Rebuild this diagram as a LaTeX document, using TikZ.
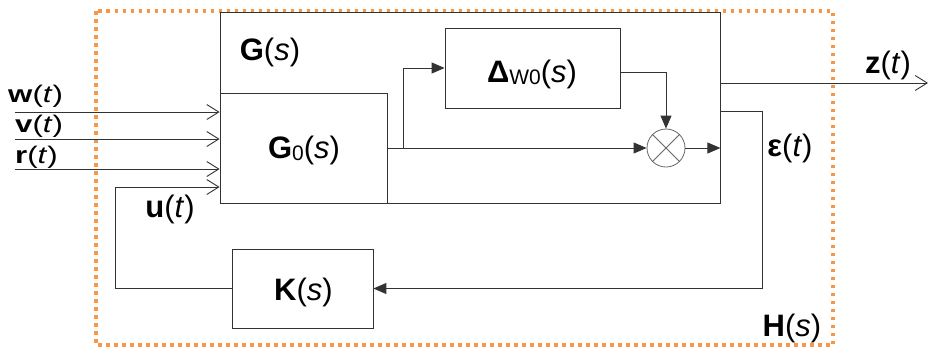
\documentclass[tikz,border=0pt]{standalone}
\usepackage{fontspec}
\setmainfont{Liberation Sans}
\usetikzlibrary{arrows.meta}
\definecolor{hdots}{HTML}{F79646}
\definecolor{wire}{HTML}{333333}
\newcommand{\sigt}[1]{\textbf{#1}(\textit{t})}
\newcommand{\tfs}[1]{\textbf{#1}(\textit{s})}
\newcommand{\subsc}[1]{\raisebox{-2pt}{\fontsize{21}{21}\selectfont #1}}

\begin{document}
\begin{tikzpicture}[x=1pt,y=-1pt,
  blk/.style={draw=wire,line width=0.8pt,inner sep=0pt},
  lbl/.style={font=\fontsize{31}{33}\selectfont,inner sep=0pt},
  sml/.style={font=\fontsize{24}{26}\selectfont,inner sep=0pt},
  oarr/.style={-{Straight Barb[length=12pt,width=15pt]},draw=wire,line width=0.9pt},
  farr/.style={-{Triangle[length=13pt,width=11pt]},draw=wire,line width=0.9pt}]
\useasboundingbox (0,0) rectangle (929,349);
\draw[hdots,line width=3.5pt,dash pattern=on 3.5pt off 4.5pt] (96,11) rectangle (833,345);
% blocks
\node[blk,minimum width=500,minimum height=191] (G) at (470,107.5) {};
\node[blk,minimum width=167,minimum height=110] (G0) at (303.5,148) {};
\node[blk,minimum width=175,minimum height=80] (D) at (532.5,68) {};
\node[blk,minimum width=141,minimum height=79] (K) at (302.5,288.5) {};
\node[draw=black!60,line width=0.8pt,circle,minimum size=38,inner sep=0pt] (m) at (666,148) {};
\draw[black!60,line width=0.8pt] (m.north east)--(m.south west) (m.north west)--(m.south east);
% texts
\node[lbl] (Gt) at (270,52) {\tfs{G}};
\node[lbl] (G0t) at (304,150) {\textbf{G}\subsc{0}(\textit{s})};
\node[lbl] (Dt) at (532,74) {\textbf{Δ}\subsc{W0}(\textit{s})};
\node[lbl] (Kt) at (303.5,292) {\tfs{K}};
\node[lbl] (Ht) at (792,328) {\tfs{H}};
\node[lbl] (zt) at (888,65) {\sigt{z}};
\node[lbl] (et) at (790,148) {\sigt{ε}};
\node[lbl] (ut) at (170,209) {\sigt{u}};
\node[sml,anchor=west] (wt) at (8,96) {\scalebox{1.3}[1]{\sigt{w}}};
\node[sml,anchor=west] (vt) at (15,126) {\scalebox{1.3}[1]{\sigt{v}}};
\node[sml,anchor=west] (rt) at (15,157) {\scalebox{1.3}[1]{\sigt{r}}};
% inputs
\coordinate (win) at (15,112);
\coordinate (vin) at (15,139);
\coordinate (rin) at (15,169);
\coordinate (uc) at (115,187);
\draw[oarr] (win) -- (win -| G0.west);
\draw[oarr] (vin) -- (vin -| G0.west);
\draw[oarr] (rin) -- (rin -| G0.west);
\draw[oarr] (K.west) -| (uc) -- (uc -| G0.west);
% inside G
\coordinate (br) at (403,148);
\draw[farr] (G0.east) -- (m.west);
\draw[farr] (br) |- (D.west);
\draw[farr] ([yshift=-4pt]D.east) -| (m.north);
\draw[farr] (m.east) -- (m.east -| G.east);
% outputs and feedback
\coordinate (zend) at (928,83);
\coordinate (ec) at (762,0);
\draw[oarr] (zend -| G.east) -- (zend);
\draw[farr] ([yshift=-3.5pt]G.east) -| (K.east -| ec) -- (K.east);
\end{tikzpicture}
\end{document}
